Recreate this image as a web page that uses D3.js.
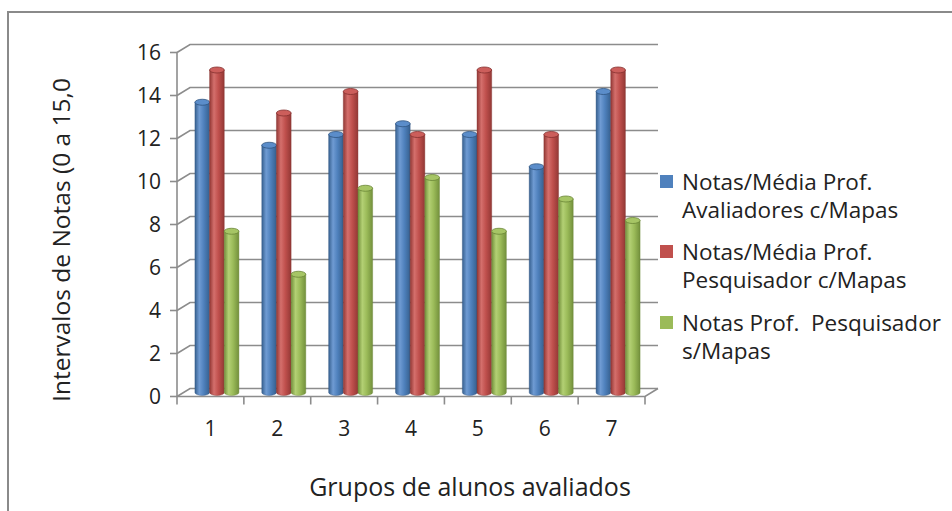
<!DOCTYPE html>
<html>
<head>
<meta charset="utf-8">
<script src="https://cdn.jsdelivr.net/npm/d3@7"></script>
<style>
  html, body { margin: 0; padding: 0; background: #fff; }
  svg { display: block; }
  text { font-family: "Open Sans", "Noto Sans", sans-serif; fill: #222; }
</style>
</head>
<body>
<svg id="chart" width="952" height="511"></svg>
<script>
// Groups of students (categories)
const categories = ["1", "2", "3", "4", "5", "6", "7"];

// Series names (legend, split in two lines each)
const seriesNames = [
  ["Notas/Média Prof.", "Avaliadores c/Mapas"],
  ["Notas/Média Prof.", "Pesquisador c/Mapas"],
  ["Notas Prof.  Pesquisador", "s/Mapas"]
];

// Values per series
const avaliadoresComMapas = [13.5, 11.5, 12, 12.5, 12, 10.5, 14];
const pesquisadorComMapas = [15, 13, 14, 12, 15, 12, 15];
const pesquisadorSemMapas = [7.5, 5.5, 9.5, 10, 7.5, 9, 8];

// Axis ticks
const yTicks = [0, 2, 4, 6, 8, 10, 12, 14, 16];

const yTitle = "Intervalos de Notas (0 a 15,0";
const xTitle = "Grupos de alunos avaliados";

const seriesValues = [avaliadoresComMapas, pesquisadorComMapas, pesquisadorSemMapas];
const colors = [
  { base: "#4F81BD", dark: "#36608f", light: "#6f9bd3", top: "#5b8dca", edge: "#2f5480" },
  { base: "#C0504D", dark: "#933835", light: "#d46f6c", top: "#cc5e5b", edge: "#84302e" },
  { base: "#9BBB59", dark: "#73903c", light: "#b3d074", top: "#a6c565", edge: "#6a8536" }
];

const svg = d3.select("#chart");

// Outer chart frame
svg.append("rect")
  .attr("x", 8).attr("y", 12)
  .attr("width", 960).attr("height", 520)
  .attr("fill", "none").attr("stroke", "#8a8a8a").attr("stroke-width", 2);

// Front plane scales
const x = d3.scaleBand().domain(categories).range([177, 645]).padding(0);
const y = d3.scaleLinear().domain([0, 16]).range([396.5, 52.5]);

// Depth offset for the back wall
const depth = { dx: 13, dy: -8 };

// Gradients for cylinders
const defs = svg.append("defs");
colors.forEach((c, i) => {
  const g = defs.append("linearGradient").attr("id", "cyl" + i)
    .attr("x1", "0%").attr("x2", "100%").attr("y1", "0%").attr("y2", "0%");
  g.append("stop").attr("offset", "0%").attr("stop-color", c.dark);
  g.append("stop").attr("offset", "30%").attr("stop-color", c.light);
  g.append("stop").attr("offset", "60%").attr("stop-color", c.base);
  g.append("stop").attr("offset", "100%").attr("stop-color", c.dark);
});

const grid = svg.append("g").attr("fill", "none").attr("stroke", "#8c8c8c").attr("stroke-width", 1.6);

// Gridlines: from front axis slanting back, then across the back wall
const x0 = x.range()[0], x1 = x.range()[1];
yTicks.forEach(t => {
  const yf = y(t);
  grid.append("path")
    .attr("d", `M${x0},${yf} L${x0 + depth.dx},${yf + depth.dy} L${x1 + depth.dx},${yf + depth.dy}`);
});

// Floor front edge and right slant
grid.append("path")
  .attr("d", `M${x0},${y(0)} L${x1},${y(0)} L${x1 + depth.dx},${y(0) + depth.dy}`);

// Vertical axis line
grid.append("line")
  .attr("x1", x0).attr("x2", x0).attr("y1", y(0)).attr("y2", y(16));

// Y tick marks and labels
yTicks.forEach(t => {
  grid.append("line").attr("x1", x0 - 7).attr("x2", x0).attr("y1", y(t)).attr("y2", y(t));
});
svg.append("g").selectAll("text").data(yTicks).join("text")
  .attr("x", 161).attr("y", d => y(d))
  .attr("dy", "0.36em")
  .attr("text-anchor", "end")
  .attr("font-size", 21)
  .text(d => d);

// X tick marks at category boundaries
const boundaries = categories.map(c => x(c)).concat([x1]);
boundaries.forEach(bx => {
  grid.append("line").attr("x1", bx).attr("x2", bx).attr("y1", y(0)).attr("y2", y(0) + 8);
});

// X category labels
svg.append("g").selectAll("text").data(categories).join("text")
  .attr("x", d => x(d) + x.bandwidth() / 2)
  .attr("y", 436)
  .attr("text-anchor", "middle")
  .attr("font-size", 21)
  .text(d => d);

// Cylinders, placed at mid depth
const inner = d3.scaleBand().domain(d3.range(seriesValues.length))
  .range([0, 44]).padding(0);
const groupOffset = (x.bandwidth() - 44) / 2;
const mid = { dx: depth.dx / 2, dy: depth.dy / 2 };
const ry = 3;

const bars = svg.append("g");
categories.forEach((cat, ci) => {
  seriesValues.forEach((vals, si) => {
    const v = vals[ci];
    const bx = x(cat) + groupOffset + inner(si) + mid.dx;
    const w = inner.bandwidth();
    const rx = w / 2;
    const yt = y(v) + mid.dy;
    const yb = y(0) + mid.dy;
    const c = colors[si];
    bars.append("path")
      .attr("d", `M${bx},${yt} L${bx},${yb} A${rx},${ry} 0 0 0 ${bx + w},${yb} L${bx + w},${yt} Z`)
      .attr("fill", `url(#cyl${si})`)
      .attr("stroke", c.edge).attr("stroke-width", 0.4);
    bars.append("ellipse")
      .attr("cx", bx + rx).attr("cy", yt)
      .attr("rx", rx).attr("ry", ry)
      .attr("fill", c.top)
      .attr("stroke", c.edge).attr("stroke-width", 0.8);
  });
});

// Axis titles
svg.append("text")
  .attr("transform", "translate(70,240) rotate(-90)")
  .attr("text-anchor", "middle")
  .attr("font-size", 24.5)
  .text(yTitle);

svg.append("text")
  .attr("x", 470).attr("y", 496)
  .attr("text-anchor", "middle")
  .attr("font-size", 25)
  .text(xTitle);

// Legend
const legendY = [182, 252, 323];
const legend = svg.append("g");
seriesNames.forEach((lines, i) => {
  legend.append("rect")
    .attr("x", 660).attr("y", legendY[i] - 7)
    .attr("width", 13).attr("height", 13)
    .attr("fill", colors[i].base);
  lines.forEach((ln, j) => {
    legend.append("text")
      .attr("x", 682).attr("y", legendY[i] + j * 28)
      .attr("dy", "0.36em")
      .attr("font-size", 22.5)
      .attr("xml:space", "preserve")
      .style("white-space", "pre")
      .text(ln);
  });
});
</script>
</body>
</html>
